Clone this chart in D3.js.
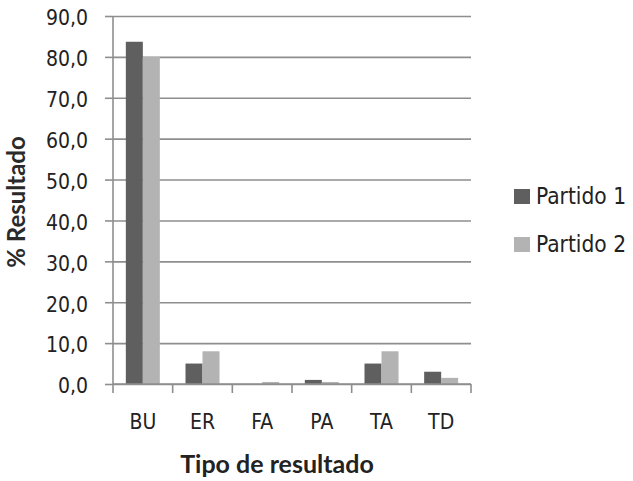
<!DOCTYPE html>
<html>
<head>
<meta charset="utf-8">
<script src="https://cdn.jsdelivr.net/npm/d3@7"></script>
<style>
  html, body { margin: 0; padding: 0; background: #fff; }
  svg { display: block; }
  .tick text { font-family: "DejaVu Sans Condensed", "DejaVu Sans", sans-serif; fill: #222; }
</style>
</head>
<body>
<svg id="chart" width="633" height="481"></svg>
<script>
// Result types and the share (%) of each for the two matches
const categories = ["BU", "ER", "FA", "PA", "TA", "TD"];
const partido1 = [83.7, 5.0, 0.0, 1.0, 5.0, 3.0];
const partido2 = [80.0, 8.0, 0.5, 0.5, 8.0, 1.5];
const seriesNames = ["Partido 1", "Partido 2"];
const seriesColors = ["#5f5f5f", "#b3b3b3"];
const yTicks = [0, 10, 20, 30, 40, 50, 60, 70, 80, 90];

const svg = d3.select("#chart");
const margin = { left: 113, right: 162, top: 16, bottom: 97 };
const W = 633, H = 481;
const plotW = W - margin.left - margin.right;
const plotH = H - margin.top - margin.bottom;
const gridColor = "#8e8e8e";
const labelFont = '"DejaVu Sans Condensed", "DejaVu Sans", sans-serif';
const titleFont = 'Lato, "Open Sans", sans-serif';

const g = svg.append("g").attr("transform", `translate(${margin.left},${margin.top})`);

const x0 = d3.scaleBand().domain(categories).range([0, plotW])
  .paddingInner(0.43).paddingOuter(0.215);
const x1 = d3.scaleBand().domain(seriesNames).range([0, x0.bandwidth()]);
const y = d3.scaleLinear().domain([0, 90]).range([plotH, 0]);

const fmt = v => d3.format(".1f")(v).replace(".", ",");

// horizontal gridlines
g.append("g")
  .call(d3.axisLeft(y).tickValues(yTicks).tickSize(-plotW).tickFormat(""))
  .call(a => a.select(".domain").remove())
  .call(a => a.selectAll(".tick line").attr("stroke", gridColor).attr("stroke-width", 1.6));

// y axis with ticks and labels
g.append("g")
  .call(d3.axisLeft(y).tickValues(yTicks).tickSize(8).tickPadding(17).tickFormat(fmt))
  .call(a => a.select(".domain").attr("stroke", gridColor).attr("stroke-width", 1.6)
     .attr("d", `M0,${plotH}V0`))
  .call(a => a.selectAll(".tick line").attr("stroke", gridColor).attr("stroke-width", 1.6))
  .call(a => a.selectAll(".tick text").attr("font-size", 21).attr("dy", "0.42em"));

// bars
const rows = categories.map((c, i) => ({ cat: c, vals: [partido1[i], partido2[i]] }));
const grp = g.append("g").selectAll("g").data(rows).join("g")
  .attr("transform", d => `translate(${x0(d.cat)},0)`);
grp.selectAll("rect")
  .data(d => d.vals.map((v, k) => ({ name: seriesNames[k], v, k })))
  .join("rect")
  .attr("x", d => x1(d.name))
  .attr("width", x1.bandwidth())
  .attr("y", d => y(d.v))
  .attr("height", d => plotH - y(d.v))
  .attr("fill", d => seriesColors[d.k]);

// x axis: labels centred on categories, ticks between categories
const step = x0.step();
const edge = (step - x0.bandwidth()) / 2;
g.append("g")
  .attr("transform", `translate(0,${plotH})`)
  .call(d3.axisBottom(x0).tickSize(0).tickPadding(30))
  .call(a => a.select(".domain").attr("stroke", gridColor).attr("stroke-width", 1.6)
     .attr("d", `M0,0H${plotW}`))
  .call(a => a.selectAll(".tick text").attr("font-size", 21));
const bounds = categories.map(c => x0(c) - edge).concat([x0(categories[categories.length - 1]) + x0.bandwidth() + edge]);
g.append("g").selectAll("line").data(bounds).join("line")
  .attr("x1", d => d).attr("x2", d => d)
  .attr("y1", plotH).attr("y2", plotH + 9)
  .attr("stroke", gridColor).attr("stroke-width", 1.6);

// axis titles
svg.append("text")
  .attr("x", 277).attr("y", 473)
  .attr("text-anchor", "middle")
  .attr("font-family", titleFont).attr("font-weight", "bold").attr("font-size", 25)
  .attr("fill", "#222")
  .text("Tipo de resultado");
svg.append("text")
  .attr("transform", `translate(25,${margin.top + plotH / 2 + 2}) rotate(-90)`)
  .attr("text-anchor", "middle")
  .attr("font-family", titleFont).attr("font-weight", "bold").attr("font-size", 24)
  .attr("fill", "#2a2a2a")
  .text("% Resultado");

// legend
const legend = svg.append("g").attr("transform", "translate(514,189)");
const item = legend.selectAll("g").data(seriesNames).join("g")
  .attr("transform", (d, i) => `translate(0,${i * 48})`);
item.append("rect").attr("width", 16).attr("height", 15)
  .attr("fill", (d, i) => seriesColors[i]);
item.append("text").attr("x", 22).attr("y", 15)
  .attr("font-family", labelFont).attr("font-size", 22.5).attr("fill", "#222")
  .text(d => d);
</script>
</body>
</html>
